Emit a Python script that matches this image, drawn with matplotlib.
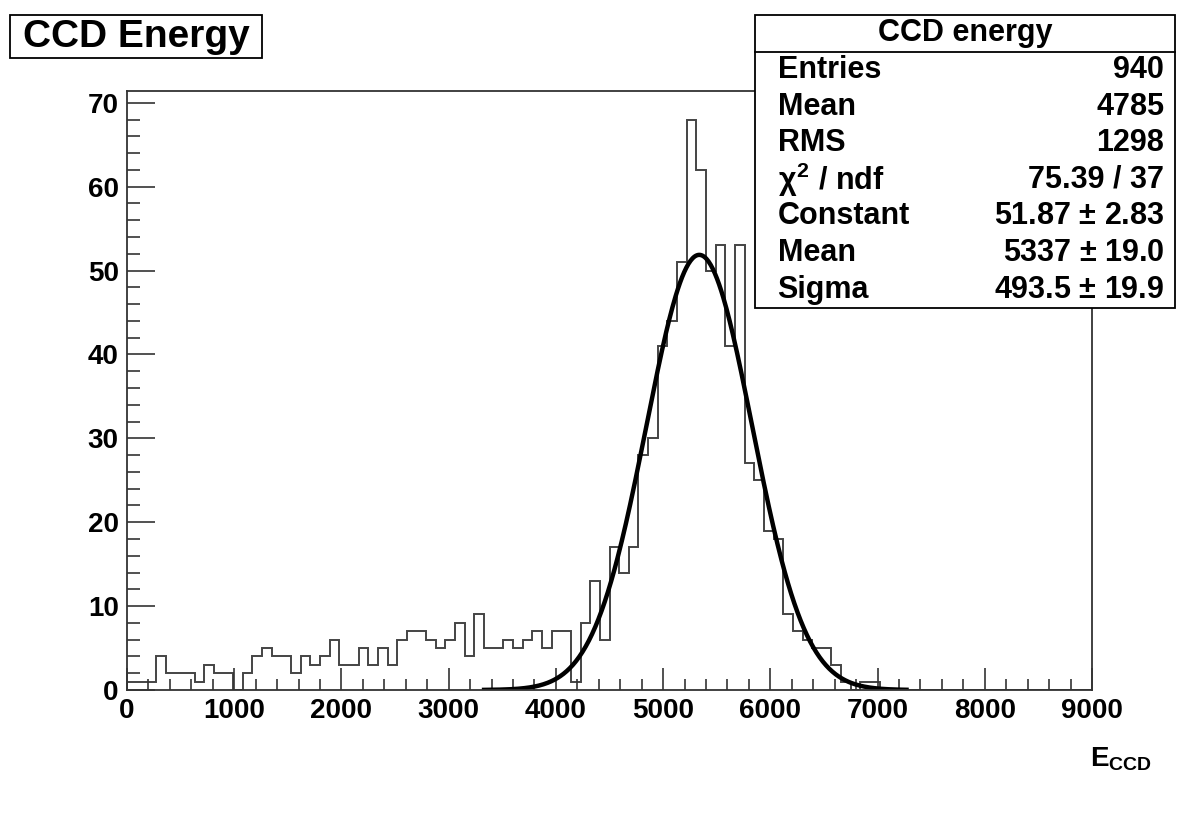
import numpy as np
import matplotlib
matplotlib.use("Agg")
import matplotlib.pyplot as plt
from matplotlib.patches import Rectangle
from matplotlib.ticker import MultipleLocator

# histogram binning: 100 bins from 0 to 9000
bin_lo = 0
bin_hi = 9000
n_bins = 100

counts = [1, 1, 1, 4, 2, 2, 2, 1, 3, 2, 2, 0, 2, 4, 5, 4, 4, 2, 4, 3,
          4, 6, 3, 3, 5, 3, 5, 3, 6, 7, 7, 6, 5, 6, 8, 4, 9, 5, 5, 6,
          5, 6, 7, 5, 7, 7, 1, 8, 13, 6, 17, 14, 17, 28, 30, 41, 44, 51, 68, 62,
          50, 53, 41, 53, 27, 25, 19, 18, 9, 7, 6, 5, 5, 3, 1, 0, 1, 1, 0, 0,
          0, 0, 0, 0, 0, 0, 0, 0, 0, 0, 0, 0, 0, 0, 0, 0, 0, 0, 0, 0]

# gaussian fit result
fit_const = 51.87
fit_mean = 5337
fit_sigma = 493.5
fit_range = (3330, 7270)

stat_labels = ["Entries", "Mean", "RMS", r"$\chi^{2}$ / ndf", "Constant", "Mean", "Sigma"]
stat_values = ["940", "4785", "1298", "75.39 / 37", r"51.87 $\pm$ 2.83",
               r"5337 $\pm$ 19.0", r"493.5 $\pm$ 19.9"]

plt.rcParams['font.family'] = ['Liberation Sans', 'DejaVu Sans']
plt.rcParams['font.weight'] = 'bold'
plt.rcParams['mathtext.fontset'] = 'custom'
plt.rcParams['mathtext.rm'] = 'Liberation Sans:bold'
plt.rcParams['mathtext.bf'] = 'Liberation Sans:bold'
plt.rcParams['mathtext.it'] = 'Liberation Sans'

fig = plt.figure(figsize=(11.84, 8.15), dpi=100)
ax = fig.add_axes([0.1073, 0.1534, 0.815, 0.7349])

edges = np.linspace(bin_lo, bin_hi, n_bins + 1)
ax.stairs(counts, edges, color='#444444', linewidth=1.4)

xf = np.linspace(fit_range[0], fit_range[1], 400)
yf = fit_const * np.exp(-0.5 * ((xf - fit_mean) / fit_sigma) ** 2)
ax.plot(xf, yf, color='black', linewidth=3.2)

ax.set_xlim(bin_lo, bin_hi)
ax.set_ylim(0, max(counts) * 1.05)

ax.xaxis.set_major_locator(MultipleLocator(1000))
ax.xaxis.set_minor_locator(MultipleLocator(200))
ax.yaxis.set_major_locator(MultipleLocator(10))
ax.yaxis.set_minor_locator(MultipleLocator(2))
ax.tick_params(axis='both', which='both', direction='in', top=False, right=False,
               labelsize=20, width=1.2, color='#333333')
ax.tick_params(axis='y', which='major', length=20, pad=6)
ax.tick_params(axis='y', which='minor', length=9)
ax.tick_params(axis='x', which='major', length=16, pad=6)
ax.tick_params(axis='x', which='minor', length=8)
for lab in ax.get_xticklabels() + ax.get_yticklabels():
    lab.set_fontweight('bold')
for sp in ax.spines.values():
    sp.set_linewidth(1.3)
    sp.set_color('#333333')

ax.text(1.062, -0.115, r'$\mathbf{E_{CCD}}$', transform=ax.transAxes, ha='right',
        va='center', fontsize=20)

# title box
fig.patches.append(Rectangle((0.0084, 0.9288), 0.2129, 0.0528, transform=fig.transFigure,
                             facecolor='white', edgecolor='black', linewidth=1.3))
fig.text(0.1148, 0.955, "CCD Energy", ha='center', va='center', fontsize=28,
         fontweight='bold')

# stats box
bx0, by0, bw, bh = 0.6377, 0.6221, 0.3547, 0.3595
fig.patches.append(Rectangle((bx0, by0), bw, bh, transform=fig.transFigure,
                             facecolor='white', edgecolor='black', linewidth=1.3,
                             zorder=5))
row_h = bh / 8
fig.add_artist(plt.Line2D([bx0, bx0 + bw], [by0 + bh - row_h, by0 + bh - row_h],
                          transform=fig.transFigure, color='black', linewidth=1.3,
                          zorder=6))
fig.text(bx0 + bw / 2, by0 + bh - row_h / 2, "CCD energy", ha='center', va='center',
         fontsize=22, fontweight='bold', zorder=7)
for i, (lab, val) in enumerate(zip(stat_labels, stat_values)):
    yy = by0 + bh - row_h * (i + 1.5)
    fig.text(bx0 + 0.019, yy, lab, ha='left', va='center', fontsize=22,
             fontweight='bold', zorder=7)
    fig.text(bx0 + bw - 0.009, yy, val, ha='right', va='center', fontsize=22,
             fontweight='bold', zorder=7)

fig.savefig("out.png", dpi=100, facecolor='white')
